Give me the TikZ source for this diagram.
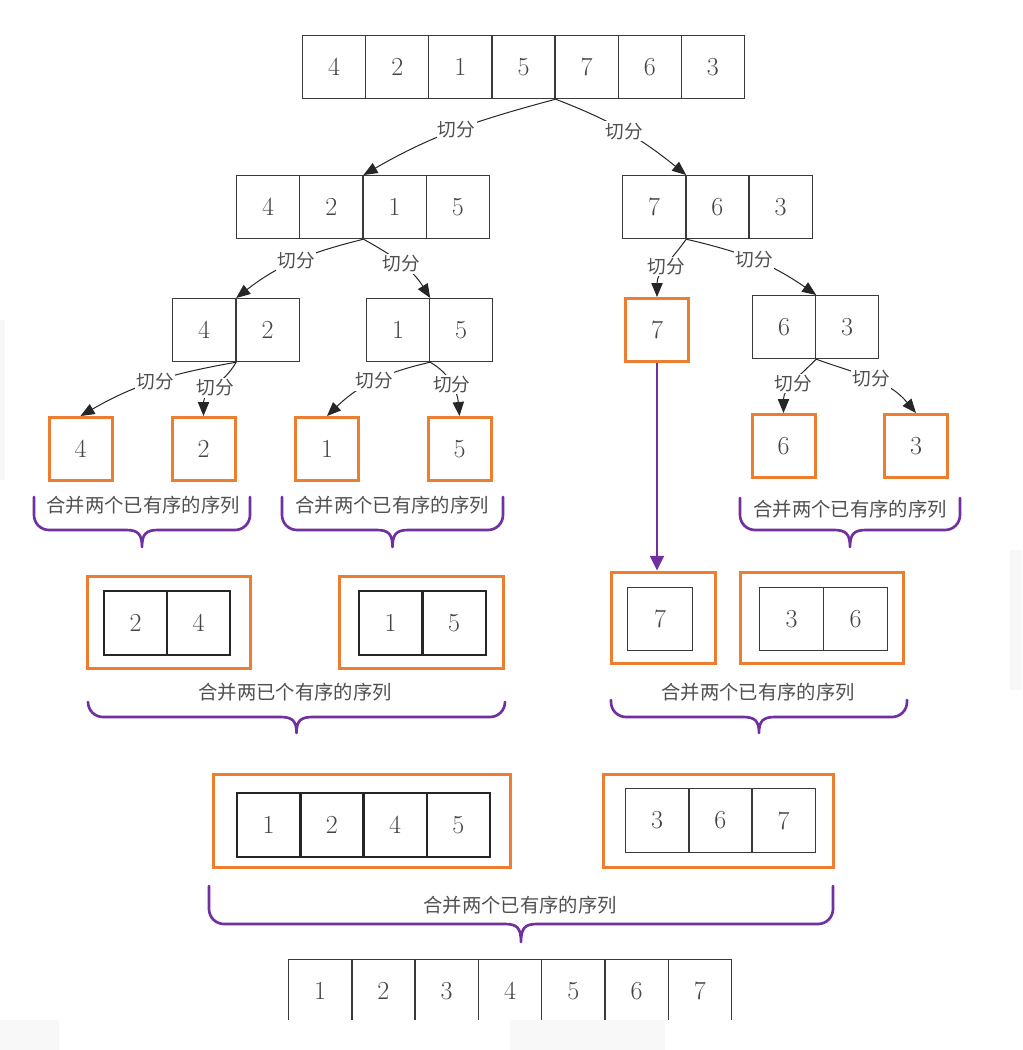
\documentclass[tikz,border=0pt]{standalone}
\usepackage{fontspec}
\newfontfamily\cjk{Noto Sans CJK SC}
\usetikzlibrary{arrows.meta}
\definecolor{lg}{HTML}{3A3A3A}
\definecolor{tg}{HTML}{454545}
\definecolor{cg}{HTML}{505050}
\definecolor{orng}{HTML}{ED7D31}
\definecolor{purp}{HTML}{7030A0}
\definecolor{band}{HTML}{F8F8F8}
\newcommand\mybrace[5]{%
  \pgfmathsetmacro\xm{(#1+#2)/2}%
  \pgfmathsetmacro\rr{min(15,#4-#3)}%
  \draw[brc] (#1,-#3) -- (#1,{-#4+\rr}) arc[start angle=180,end angle=270,radius=\rr]
    -- ({\xm-16},-#4) .. controls ({\xm-4},-#4) and (\xm,{-#4-4}) .. (\xm,-#5)
    .. controls (\xm,{-#4-4}) and ({\xm+4},-#4) .. ({\xm+16},-#4)
    -- ({#2-\rr},-#4) arc[start angle=270,end angle=360,radius=\rr] -- (#2,-#3);}
\begin{document}
\begin{tikzpicture}[x=0.75pt,y=0.75pt,
  num/.style={font=\fontsize{19.5}{22}\selectfont, text=tg},
  cell/.style={num, draw=lg, line width=0.9pt, minimum width=47.25pt, minimum height=47.25pt, inner sep=0pt, anchor=north west},
  tcell/.style={cell, line width=1.7pt, draw=black!85, minimum height=48pt},
  obox/.style={num, draw=orng, line width=2.25pt, minimum width=47.25pt, minimum height=47.25pt, inner sep=0pt},
  ocont/.style={draw=orng, line width=2.25pt, inner sep=0pt},
  arr/.style={draw=black!85, line width=0.75pt, -{Triangle[length=10.5pt,width=8.5pt]}},
  parr/.style={draw=purp, line width=1.5pt, -{Triangle[length=11pt,width=10.5pt]}},
  cut/.style={font=\cjk\fontsize{14}{16}\selectfont, text=cg, fill=white, inner sep=1pt},
  mlbl/.style={font=\cjk\fontsize{14.5}{16}\selectfont, text=cg, inner sep=0pt},
  brc/.style={draw=purp, line width=2pt, line cap=round, line join=round}]
\useasboundingbox (0,0) rectangle (1022,-1050);
\fill[white] (0,0) rectangle (1022,-1050);
\fill[band] (0,-320) rectangle (5,-480);
\fill[band] (1010,-550) rectangle (1022,-690);

% level 1
\foreach \v [count=\i from 0] in {4,2,1,5,7,6,3}
  \node[cell] (t\i) at ({302+63.14*\i},-35) {\v};
% level 2
\foreach \v [count=\i from 0] in {4,2,1,5}
  \node[cell] (a\i) at ({236+63.25*\i},-175) {\v};
\foreach \v [count=\i from 0] in {7,6,3}
  \node[cell] (b\i) at ({622+63.3*\i},-175) {\v};
% level 3
\foreach \v [count=\i from 0] in {4,2}
  \node[cell] (c\i) at ({172+63.5*\i},-298) {\v};
\foreach \v [count=\i from 0] in {1,5}
  \node[cell] (d\i) at ({366+63*\i},-298) {\v};
\foreach \v [count=\i from 0] in {6,3}
  \node[cell] (e\i) at ({752+63*\i},-295) {\v};
\node[obox] (f7) at (657,-330) {7};
% level 4
\node[obox] (g4) at (80.5,-449) {4};
\node[obox] (g2) at (203.5,-449) {2};
\node[obox] (g1) at (327,-449) {1};
\node[obox] (g5) at (459.5,-449) {5};
\node[obox] (g6) at (783.5,-446) {6};
\node[obox] (g3) at (916,-446) {3};

% split connectors
\draw[arr] (t3.south east) to[out=195,in=30] node[cut]{切分} (a1.north east);
\draw[arr] (t3.south east) to[out=339,in=141] node[cut]{切分} (b0.north east);
\draw[arr] (a1.south east) to[out=194,in=38] node[cut]{切分} (c0.north east);
\draw[arr] (a1.south east) to[out=331,in=122] node[cut]{切分} (d0.north east);
\draw[arr] (b0.south east) to[out=235,in=90] node[cut]{切分} (f7.north);
\draw[arr] (b0.south east) to[out=347,in=145] node[cut]{切分} (e0.north east);
\draw[arr] (c0.south east) to[out=190,in=30] node[cut]{切分} (g4.north);
\draw[arr] (c0.south east) to[out=240,in=90] node[cut]{切分} (g2.north);
\draw[arr] (d0.south east) to[out=193,in=44] node[cut]{切分} (g1.north);
\draw[arr] (d0.south east) to[out=330,in=95] node[cut]{切分} (g5.north);
\draw[arr] (e0.south east) to[out=225,in=90] node[cut]{切分} (g6.north);
\draw[arr] (e0.south east) to[out=340,in=130] node[cut]{切分} (g3.north);

% braces level 4
\mybrace{34}{250}{497}{530}{547}
\mybrace{282}{503}{497}{530}{547}
\mybrace{740}{960}{498}{530}{547}
\node[mlbl] (m1) at (143,-505) {合并两个已有序的序列};
\node[mlbl] (m2) at (392,-505) {合并两个已有序的序列};
\node[mlbl] (m3) at (850,-509) {合并两个已有序的序列};

% level 5
\node[ocont, minimum width=122.25pt, minimum height=69pt] (o24) at (168.5,-622) {};
\node[ocont, minimum width=123pt, minimum height=69pt] (o15) at (421,-622) {};
\node[ocont, minimum width=78pt, minimum height=68.25pt] (o7) at (663,-617.5) {};
\node[ocont, minimum width=122.25pt, minimum height=68.25pt] (o36) at (821.5,-617.5) {};
\foreach \v [count=\i from 0] in {2,4}
  \node[tcell] (p\i) at ({103+63*\i},-590) {\v};
\foreach \v [count=\i from 0] in {1,5}
  \node[tcell] (q\i) at ({358+63.5*\i},-590) {\v};
\node[cell, minimum width=48.75pt] (r0) at (627,-587) {7};
\foreach \v [count=\i from 0] in {3,6}
  \node[cell, minimum width=48pt] (s\i) at ({759+64*\i},-587) {\v};
\draw[parr] (f7.south) -- (f7.south |- o7.north);

\mybrace{88}{505}{702}{717}{733}
\mybrace{611}{907}{700}{717}{733}
\node[mlbl] (m4) at (295,-692) {合并两已个有序的序列};
\node[mlbl] (m5) at (758,-692) {合并两个已有序的序列};

% level 6
\node[ocont, minimum width=222.75pt, minimum height=69.75pt] (o1245) at (361.5,-820.5) {};
\node[ocont, minimum width=172.5pt, minimum height=69.75pt] (o367) at (718,-820.5) {};
\foreach \v [count=\i from 0] in {1,2,4,5}
  \node[tcell] (u\i) at ({236+63.25*\i},-792) {\v};
\foreach \v [count=\i from 0] in {3,6,7}
  \node[cell, minimum height=48pt] (v\i) at ({625+63.3*\i},-788) {\v};

\mybrace{209}{833}{886}{924}{942}
\node[mlbl] (m6) at (520,-905) {合并两个已有序的序列};

% final row (cut off by the image edge)
\foreach \v [count=\i from 0] in {1,2,3,4,5,6,7}
  \node[cell] (w\i) at ({288+63.3*\i},-959) {\v};
\fill[white] (0,-1020) rectangle (1022,-1050);
\fill[band] (0,-1020) rectangle (59,-1050);
\fill[band] (510,-1020) rectangle (665,-1050);
\end{tikzpicture}
\end{document}
